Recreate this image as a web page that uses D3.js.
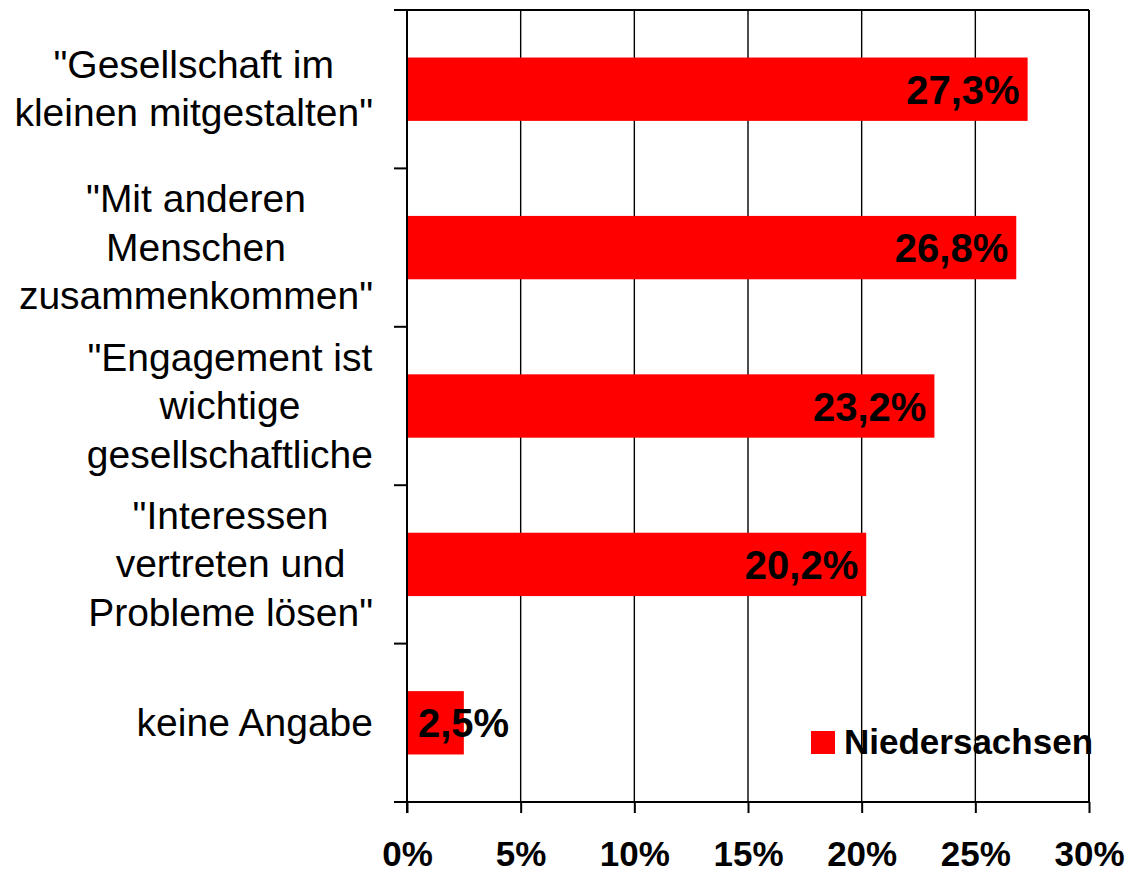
<!DOCTYPE html>
<html><head><meta charset="utf-8">
<script src="https://cdn.jsdelivr.net/npm/d3@7/dist/d3.min.js"></script>
<style>
html,body{margin:0;padding:0;background:#fff;}
text{font-family:"Liberation Sans",Arial,sans-serif;fill:#000;}
</style></head><body>
<svg id="c" width="1129" height="872"></svg>
<script>
const categories = [
  ['"Gesellschaft im','kleinen mitgestalten"'],
  ['"Mit anderen','Menschen','zusammenkommen"'],
  ['"Engagement ist','wichtige','gesellschaftliche'],
  ['"Interessen','vertreten und','Probleme lösen"'],
  ['keine Angabe']
];
const values = [27.3, 26.8, 23.2, 20.2, 2.5];
const valueLabels = ["27,3%","26,8%","23,2%","20,2%","2,5%"];
const xTicks = [0,5,10,15,20,25,30];
const seriesName = "Niedersachsen";

const svg = d3.select("#c");
const L = 407, R = 1089, T = 10, B = 802;
const x = d3.scaleLinear().domain([0,30]).range([L,R]);
const y = d3.scaleBand().domain(d3.range(categories.length)).range([T,B]).paddingInner(0.6).paddingOuter(0.3);
const step = y.step();

// gridlines
svg.append("g").selectAll("line").data(xTicks.slice(1,-1)).join("line")
  .attr("x1",d=>x(d)).attr("x2",d=>x(d)).attr("y1",T).attr("y2",B)
  .attr("stroke","#000").attr("stroke-width",1.4);

// bars
svg.append("g").selectAll("rect").data(values).join("rect")
  .attr("x",x(0)).attr("y",(d,i)=>y(i)).attr("width",d=>x(d)-x(0)).attr("height",y.bandwidth())
  .attr("fill","#ff0000");

// frame (top & right)
svg.append("line").attr("x1",L-13).attr("x2",R).attr("y1",T).attr("y2",T).attr("stroke","#000").attr("stroke-width",2);
svg.append("line").attr("x1",R).attr("x2",R).attr("y1",T).attr("y2",B).attr("stroke","#000").attr("stroke-width",2);

// left axis
svg.append("line").attr("x1",L).attr("x2",L).attr("y1",T).attr("y2",B+11).attr("stroke","#000").attr("stroke-width",2);
svg.append("g").selectAll("line").data(d3.range(categories.length+1)).join("line")
  .attr("x1",L-13).attr("x2",L).attr("y1",i=>T+i*step).attr("y2",i=>T+i*step)
  .attr("stroke","#000").attr("stroke-width",2);

// bottom axis
const xa = svg.append("g").attr("transform",`translate(0,${B})`)
  .call(d3.axisBottom(x).tickValues(xTicks).tickSize(11).tickSizeOuter(0).tickFormat(d=>d+"%"));
xa.select(".domain").attr("stroke","#000").attr("stroke-width",2).attr("d",`M${L-13},0H${R}`);
xa.selectAll(".tick line").attr("stroke","#000").attr("stroke-width",2);
xa.selectAll(".tick text").attr("y",64).attr("dy",null)
  .style("font-family",'"Liberation Sans",Arial,sans-serif').style("font-weight","bold").style("font-size","35px").attr("fill","#000");

// category labels
const labelRight = 373;
categories.forEach((lines,i)=>{
  const g = svg.append("g");
  const cy = y(i)+y.bandwidth()/2;
  const lh = 48.5;
  const n = lines.length;
  const ts = lines.map((t,k)=>g.append("text").text(t)
    .attr("y", cy + 13 + (k-(n-1)/2)*lh)
    .attr("text-anchor","middle").style("font-size","39px"));
  const maxW = d3.max(ts,t=>t.node().getComputedTextLength());
  ts.forEach(t=>t.attr("x",labelRight-maxW/2));
});

// value labels
values.forEach((v,i)=>{
  const t = svg.append("text").text(valueLabels[i])
    .attr("y", y(i)+y.bandwidth()/2+14.5)
    .style("font-size","40px").style("font-weight","bold");
  const w = t.node().getComputedTextLength();
  let xe = x(v)-8;
  if (xe - w < x(0)+11) { t.attr("x",x(0)+11).attr("text-anchor","start"); }
  else t.attr("x",xe).attr("text-anchor","end");
});

// legend
svg.append("rect").attr("x",811).attr("y",731).attr("width",24).attr("height",23).attr("fill","#ff0000");
svg.append("text").text(seriesName).attr("x",844).attr("y",754)
  .style("font-size","35px").style("font-weight","bold");
</script>
</body></html>
